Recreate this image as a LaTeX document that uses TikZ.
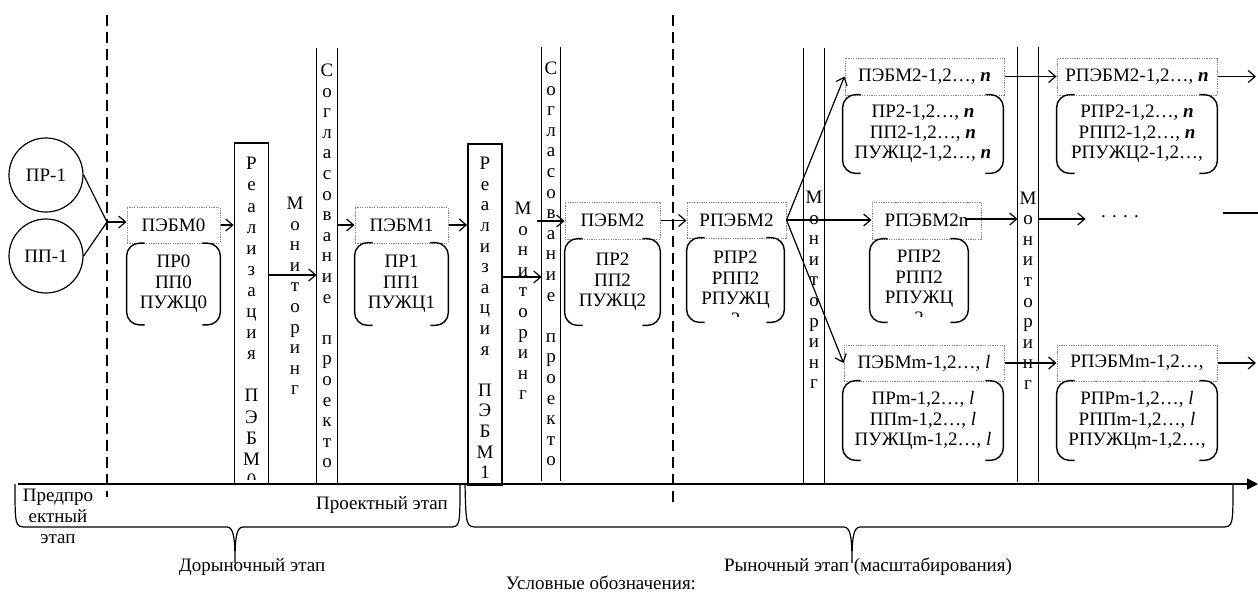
\documentclass[tikz,border=0pt]{standalone}
\usepackage{fontspec}
\setmainfont{Liberation Serif}
\usetikzlibrary{arrows.meta}
\begin{document}
\begin{tikzpicture}[x=0.5pt,y=-0.5pt,
  every node/.style={font=\fontsize{9.5pt}{10.3pt}\selectfont, inner sep=0pt},
  ln/.style={line width=0.6pt},
  arr/.style={line width=0.6pt, -{Straight Barb[length=3.5pt,width=6pt]}},
  dbox/.style={draw=gray, line width=0.5pt, dash pattern=on 0.6pt off 0.6pt},
  rbox/.style={draw, line width=0.9pt, minimum width=17pt, minimum height=170.5pt},
  col/.style={minimum width=10pt, minimum height=218pt, align=center},
  vt/.style={align=center},
  bk/.style={align=center},
  circ/.style={draw, circle, line width=0.6pt, minimum size=37pt},
  dsh/.style={line width=0.6pt, dash pattern=on 5.5pt off 3pt},
  brk/.style={line width=0.7pt, rounded corners=6.5pt},
]
\useasboundingbox (0,0) rectangle (1258,596);

% dashed stage separators
\coordinate (d1t) at (107,15); \coordinate (d1b) at (107,497);
\coordinate (d2t) at (673,15); \coordinate (d2b) at (673,502);
\draw[dsh] (d1t) -- (d1b);
\draw[dsh] (d2t) -- (d2b);

% circles
\node[circ] (pr) at (46,175) {ПР-1};
\node[circ] (pp) at (46,256) {ПП-1};
\coordinate (j0) at (107,222);
\draw[ln] (pr.east) -- (j0);
\draw[ln] (pp.east) -- (j0);

% stage 0
\node[dbox, minimum width=46.5pt, minimum height=18pt] (e0) at (173.5,225) {ПЭБМ0};
\node[bk, minimum width=46.5pt, minimum height=40.5pt] (b0) at (173.5,284) {ПР0\\ПП0\\ПУЖЦ0};
\draw[arr] (j0) -- (j0 -| e0.west);

\node[rbox] (r0) at (251.5,313.5) {};
\begin{scope}
\clip (235,143) rectangle (268,479);
\node[vt, font=\fontsize{9.5pt}{10.55pt}\selectfont] (r0t) at (251.5,322) {Р\\е\\а\\л\\и\\з\\а\\ц\\и\\я\\~\\П\\Э\\Б\\М\\0};
\end{scope}
\draw[arr] (e0.east) -- (e0.east -| r0.west);

\node[vt] (m0) at (295,296) {М\\о\\н\\и\\т\\о\\р\\и\\н\\г};

\node[col] (s0) at (327,266) {С\\о\\г\\л\\а\\с\\о\\в\\а\\н\\и\\е\\~\\п\\р\\о\\е\\к\\т\\о};
\draw[ln] (s0.north west) -- (s0.south west);
\draw[ln] (s0.north east) -- (s0.south east);
\coordinate (y275) at (0,275);
\draw[arr] (r0.east |- y275) -- (s0.west |- y275);

% stage 1
\node[dbox, minimum width=46.5pt, minimum height=18pt] (e1) at (401.5,225) {ПЭБМ1};
\node[bk, minimum width=46.5pt, minimum height=41pt] (b1) at (401.5,284) {ПР1\\ПП1\\ПУЖЦ1};
\draw[arr] (s0.east |- e1.west) -- (e1.west);

\node[rbox] (r1) at (485,314.5) {};
\node[vt] (r1t) at (485,318) {Р\\е\\а\\л\\и\\з\\а\\ц\\и\\я\\~\\П\\Э\\Б\\М\\1};
\draw[arr] (e1.east) -- (e1.east -| r1.west);

\node[vt] (m1) at (523,301) {М\\о\\н\\и\\т\\о\\р\\и\\н\\г};

\node[col, minimum width=9pt, minimum height=217pt] (s1) at (551,264) {С\\о\\г\\л\\а\\с\\о\\в\\а\\н\\и\\е\\~\\п\\р\\о\\е\\к\\т\\о};
\draw[ln] (s1.north west) -- (s1.south west);
\draw[ln] (s1.north east) -- (s1.south east);
\coordinate (y277) at (0,277);
\draw[arr] (r1.east |- y277) -- (s1.west |- y277);

% stage 2
\node[dbox, minimum width=47.5pt, minimum height=18.5pt] (e2) at (612.5,220.5) {ПЭБМ2};
\node[bk, minimum width=47.5pt, minimum height=43pt] (b2) at (612.5,282) {ПР2\\ПП2\\ПУЖЦ2};
\coordinate (a1) at (537,221);
\draw[arr] (a1) -- (a1 -| e2.west);

\node[dbox, minimum width=49.5pt, minimum height=18pt] (re2) at (736.5,220) {РПЭБМ2};
\node[minimum width=48.5pt, minimum height=42pt] (rb2) at (735.5,280) {};
\begin{scope}
\clip (687,238) rectangle (784,316);
\node[bk] (rb2t) at (735.5,288) {РПР2\\РПП2\\РПУЖЦ\\2};
\end{scope}
\draw[arr] (e2.east) -- (e2.east -| re2.west);

% market monitoring 1
\node[minimum width=10pt, minimum height=218pt] (mm1) at (814,266) {};
\draw[ln] (mm1.north west) -- (mm1.south west);
\draw[ln] (mm1.north east) -- (mm1.south east);
\node[vt] (mt1) at (814,290) {М\\о\\н\\и\\т\\о\\р\\и\\н\\г};

% branches
\node[dbox, minimum width=79.5pt, minimum height=18.5pt] (e21) at (924.5,76.5) {ПЭБМ2-1,2…, \textbf{\textit{n}}};
\node[bk, minimum width=80pt, minimum height=39pt] (b21) at (923,134) {ПР2-1,2…, \textbf{\textit{n}}\\ПП2-1,2…, \textbf{\textit{n}}\\ПУЖЦ2-1,2…, \textbf{\textit{n}}};

\node[dbox, minimum width=54.5pt, minimum height=18.5pt] (rn) at (926.5,220.5) {РПЭБМ2n};
\node[minimum width=49pt, minimum height=41.5pt] (rbn) at (919,280.5) {};
\begin{scope}
\clip (870,239) rectangle (968,316);
\node[bk] (rbnt) at (919,287) {РПР2\\РПП2\\РПУЖЦ\\2};
\end{scope}

\node[dbox, minimum width=80pt, minimum height=18pt] (em) at (924,363) {ПЭБМm-1,2…, \textit{l}};
\node[bk, minimum width=80pt, minimum height=39.5pt] (bm) at (923,420.5) {ПРm-1,2…, \textit{l}\\ППm-1,2…, \textit{l}\\ПУЖЦm-1,2…, \textit{l}};

\draw[arr] (re2.east) -- (e21.west);
\draw[arr] (re2.east) -- (re2.east -| rn.west);
\draw[arr] (re2.east) -- (em.west);

% market monitoring 2
\node[minimum width=10pt, minimum height=217.5pt] (mm2) at (1028,264.5) {};
\draw[ln] (mm2.north west) -- (mm2.south west);
\draw[ln] (mm2.north east) -- (mm2.south east);
\node[vt] (mt2) at (1028,290.5) {М\\о\\н\\и\\т\\о\\р\\и\\н\\г};

\node[dbox, minimum width=80pt, minimum height=18.5pt] (re21) at (1137,76.5) {РПЭБМ2-1,2…, \textbf{\textit{n}}};
\node[bk, minimum width=80pt, minimum height=39pt] (rb21) at (1137,134) {РПР2-1,2…, \textbf{\textit{n}}\\РПП2-1,2…, \textbf{\textit{n}}\\РПУЖЦ2-1,2…,};
\draw[arr] (e21.east) -- (e21.east -| re21.west);
\coordinate (o21) at (1256,76.5);
\draw[arr] (re21.east) -- (o21);

\coordinate (rnx) at (965,219);
\draw[arr] (rnx) -- (rnx -| mm2.west);
\node (dots) at (1120,217) {. . . .};
\draw[arr, shorten >=7.5pt] (mm2.east |- rnx) -- (dots.west |- rnx);
\coordinate (ln1) at (1223,213); \coordinate (ln2) at (1258,213);
\draw[ln] (ln1) -- (ln2);

\node[dbox, minimum width=80pt, minimum height=18pt] (rem) at (1137,363) {РПЭБМm-1,2…,};
\node[bk, minimum width=80pt, minimum height=39.5pt] (rbm) at (1137,420.5) {РПРm-1,2…, \textit{l}\\РППm-1,2…, \textit{l}\\РПУЖЦm-1,2…,};
\draw[arr] (em.east) -- (em.east -| rem.west);
\coordinate (orm) at (1256,363);
\draw[arr] (rem.east) -- (orm);

% bracket parentheses
\foreach \n in {b0,b1,b2,rb2,b21,rbn,bm,rb21,rbm} {
  \draw[brk] ([xshift=9pt]\n.north west) -- (\n.north west) -- (\n.south west) -- ([xshift=9pt]\n.south west);
  \draw[brk] ([xshift=-9pt]\n.north east) -- (\n.north east) -- (\n.south east) -- ([xshift=-9pt]\n.south east);
}

% timeline
\coordinate (t0) at (18,484); \coordinate (t1) at (1258,484);
\draw[line width=0.8pt, -{Triangle[length=5.5pt,width=5.5pt]}] (t0) -- (t1);

% braces
\draw[ln] (15,484) .. controls (15,527) .. (27,527) -- (227,527)
  .. controls (234,527) and (235,540) .. (235,563)
  .. controls (235,540) and (236,527) .. (243,527) -- (449,527)
  .. controls (460,527) .. (460,484);
\draw[ln] (465,484) .. controls (466,527) .. (478,527) -- (844,527)
  .. controls (851,527) and (852,540) .. (852,563)
  .. controls (852,540) and (853,527) .. (860,527) -- (1221,527)
  .. controls (1233,527) .. (1233,484);

% labels
\node[align=center, font=\fontsize{9.5pt}{10.5pt}\selectfont] (pre) at (58,516) {Предпро\\ектный\\этап};
\node (proj) at (382,505) {Проектный этап};
\node (dor) at (252,567) {Дорыночный этап};
\node (ryn) at (868,567) {Рыночный этап (масштабирования)};
\node (leg) at (601,583) {Условные обозначения:};
\end{tikzpicture}
\end{document}
